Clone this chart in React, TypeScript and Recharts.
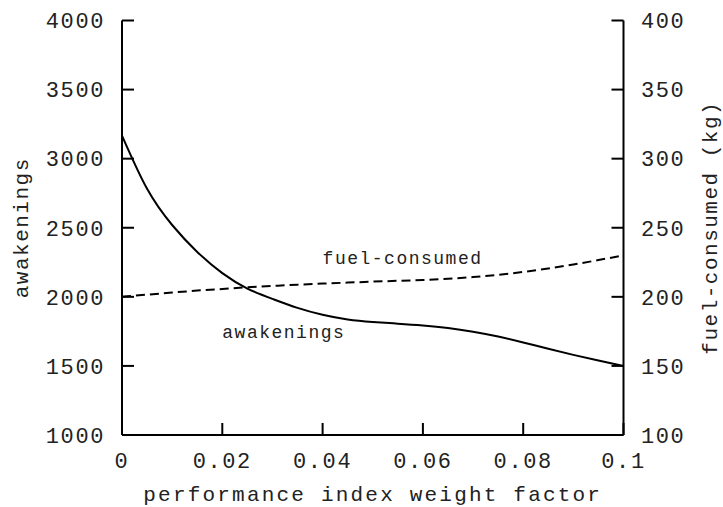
import {
  ComposedChart,
  Line,
  XAxis,
  YAxis,
  ReferenceDot,
} from "recharts";

const weightFactor = [
  0, 0.005, 0.01, 0.015, 0.02, 0.025, 0.03, 0.035, 0.04, 0.045, 0.05,
  0.055, 0.06, 0.065, 0.07, 0.075, 0.08, 0.085, 0.09, 0.095, 0.1,
];
const awakenings = [
  3167, 2782, 2520, 2325, 2172, 2060, 1985, 1920, 1870, 1836, 1818,
  1806, 1793, 1775, 1748, 1713, 1670, 1624, 1580, 1539, 1500,
];
const fuelConsumed = [
  200, 201.6, 203.1, 204.5, 205.7, 206.9, 207.9, 208.8, 209.6, 210.3, 211,
  211.6, 212.2, 213.1, 214.3, 215.9, 218.0, 220.5, 223.4, 226.6, 230,
];

const xTicks = [0, 0.02, 0.04, 0.06, 0.08, 0.1];
const leftTicks = [1000, 1500, 2000, 2500, 3000, 3500, 4000];
const rightTicks = [100, 150, 200, 250, 300, 350, 400];

const data = weightFactor.map((w, i) => ({
  w,
  awakenings: awakenings[i],
  fuel: fuelConsumed[i],
}));

const FONT = "'Liberation Mono', 'DejaVu Sans Mono', monospace";
const INK = "#222";
const tickStyle = { fontSize: 22, fill: INK, fontFamily: FONT, letterSpacing: 1.6 };

function SideTitle({ viewBox, value, dx }: any) {
  const cx = viewBox.x + dx;
  const cy = viewBox.y + viewBox.height / 2;
  return (
    <text
      x={cx}
      y={cy}
      transform={`rotate(-90 ${cx} ${cy})`}
      textAnchor="middle"
      dominantBaseline="central"
      fontFamily={FONT}
      fontSize={21}
      letterSpacing={1.5}
      fill={INK}
    >
      {value}
    </text>
  );
}

function CurveNote({ viewBox, value }: any) {
  return (
    <text
      x={viewBox.x}
      y={viewBox.y}
      fontFamily={FONT}
      fontSize={18}
      letterSpacing={1.5}
      fill={INK}
    >
      {value}
    </text>
  );
}

export default function App() {
  return (
    <div style={{ position: "absolute", left: 0, top: 0, background: "#fff" }}>
      <ComposedChart
        width={723}
        height={507}
        data={data}
        margin={{ top: 20.5, right: 0, bottom: 0, left: 0 }}
      >
        <XAxis
          xAxisId="bottom"
          dataKey="w"
          type="number"
          domain={[0, 0.1]}
          ticks={xTicks}
          tickFormatter={(v: number) => String(v)}
          height={72}
          tickSize={-12}
          tickMargin={29}
          tick={tickStyle}
          axisLine={{ stroke: "#000", strokeWidth: 2 }}
          tickLine={{ stroke: "#000", strokeWidth: 2 }}
          label={{
            value: "performance index weight factor",
            position: "insideBottom",
            offset: 6,
            style: { fontSize: 21, fill: INK, fontFamily: FONT, letterSpacing: 2.2 },
          }}
        />
        <XAxis
          xAxisId="top"
          orientation="top"
          type="number"
          domain={[0, 0.1]}
          allowDataOverflow
          ticks={xTicks}
          height={0}
          tickSize={-12}
          tick={false}
          axisLine={{ stroke: "#000", strokeWidth: 2 }}
          tickLine={{ stroke: "#000", strokeWidth: 2 }}
        />
        <YAxis
          yAxisId="left"
          domain={[1000, 4000]}
          ticks={leftTicks}
          width={122}
          tickSize={-12}
          tickMargin={29}
          tick={tickStyle}
          axisLine={{ stroke: "#000", strokeWidth: 2 }}
          tickLine={{ stroke: "#000", strokeWidth: 2 }}
          label={{ value: "awakenings", content: (p: any) => <SideTitle {...p} value="awakenings" dx={22} /> }}
        />
        <YAxis
          yAxisId="right"
          orientation="right"
          domain={[100, 400]}
          ticks={rightTicks}
          width={99.5}
          tickSize={-12}
          tickMargin={29.5}
          tick={tickStyle}
          axisLine={{ stroke: "#000", strokeWidth: 2 }}
          tickLine={{ stroke: "#000", strokeWidth: 2 }}
          label={{ value: "fuel-consumed (kg)", content: (p: any) => <SideTitle {...p} value="fuel-consumed (kg)" dx={88} /> }}
        />
        <Line
          xAxisId="bottom"
          yAxisId="left"
          type="natural"
          dataKey="awakenings"
          stroke="#000"
          strokeWidth={2}
          dot={false}
          activeDot={false}
          isAnimationActive={false}
        />
        <Line
          xAxisId="bottom"
          yAxisId="right"
          type="natural"
          dataKey="fuel"
          stroke="#000"
          strokeWidth={2}
          strokeDasharray="9 5"
          dot={false}
          activeDot={false}
          isAnimationActive={false}
        />
        <ReferenceDot
          xAxisId="bottom"
          yAxisId="right"
          x={0.04}
          y={224}
          r={0}
          fill="none"
          stroke="none"
          label={{ value: "fuel-consumed", content: (p: any) => <CurveNote {...p} value="fuel-consumed" /> }}
        />
        <ReferenceDot
          xAxisId="bottom"
          yAxisId="left"
          x={0.02}
          y={1705}
          r={0}
          fill="none"
          stroke="none"
          label={{ value: "awakenings", content: (p: any) => <CurveNote {...p} value="awakenings" /> }}
        />
      </ComposedChart>
    </div>
  );
}
